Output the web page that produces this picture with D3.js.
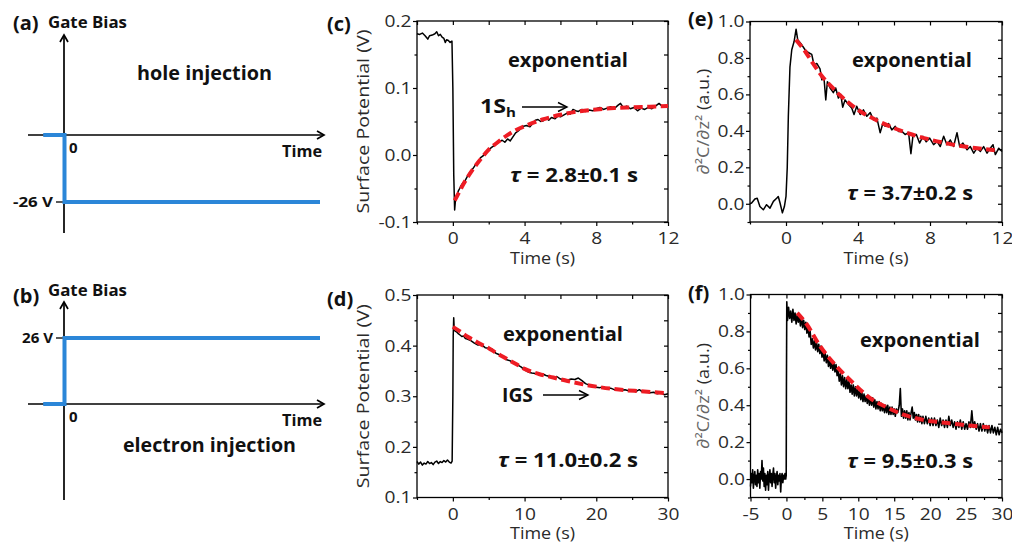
<!DOCTYPE html>
<html><head><meta charset="utf-8">
<script src="https://cdn.jsdelivr.net/npm/d3@7"></script>
<style>
body{margin:0;background:#fff}
svg{display:block}
</style>
</head><body>
<svg id="fig" width="1012" height="544"></svg>
<script>
// ---------------- DATA ----------------
// (a)/(b) gate bias schematic (t in arbitrary units, V in volts)
const holeBias = [[-1,0],[0,0],[0,-26],[12,-26]];
const electronBias = [[-1,0],[0,0],[0,26],[12,26]];
const holeLevelLabel = "-26 V";
const electronLevelLabel = "26 V";

// (c) surface potential, hole injection
const cTrace = [[-2.0,0.181],[-1.85,0.180],[-1.7,0.182],[-1.55,0.178],[-1.4,0.173],[-1.3,0.178],[-1.15,0.179],[-1.0,0.181],[-0.9,0.184],[-0.8,0.178],[-0.7,0.180],[-0.6,0.176],[-0.5,0.174],[-0.42,0.168],[-0.35,0.172],[-0.25,0.171],[-0.15,0.168],[-0.05,0.170],[0.0,0.10],[0.05,-0.03],[0.1,-0.082],[0.15,-0.066],[0.22,-0.061],[0.3,-0.054],[0.38,-0.050],[0.45,-0.046],[0.55,-0.042],[0.65,-0.040],[0.75,-0.035],[0.85,-0.030],[0.95,-0.026],[1.1,-0.021],[1.25,-0.015],[1.4,-0.012],[1.55,-0.004],[1.7,-0.001],[1.85,0.004],[2.0,0.008],[2.2,0.012],[2.4,0.016],[2.6,0.020],[2.75,0.022],[2.9,0.019],[3.05,0.024],[3.2,0.021],[3.35,0.027],[3.5,0.033],[3.65,0.036],[3.8,0.040],[3.95,0.043],[4.1,0.044],[4.3,0.042],[4.45,0.047],[4.6,0.052],[4.75,0.053],[4.9,0.050],[5.05,0.051],[5.2,0.055],[5.35,0.052],[5.5,0.056],[5.7,0.054],[5.85,0.058],[6.0,0.057],[6.2,0.060],[6.4,0.063],[6.55,0.061],[6.7,0.068],[6.85,0.066],[7.0,0.065],[7.2,0.068],[7.4,0.065],[7.6,0.067],[7.8,0.066],[8.0,0.069],[8.2,0.071],[8.4,0.068],[8.6,0.070],[8.8,0.072],[9.0,0.069],[9.2,0.074],[9.35,0.077],[9.5,0.071],[9.7,0.073],[9.9,0.069],[10.1,0.071],[10.3,0.066],[10.5,0.070],[10.7,0.068],[10.9,0.071],[11.1,0.069],[11.3,0.073],[11.5,0.077],[11.7,0.072],[11.85,0.074],[12.0,0.072]];
const cFit = [[0.1,-0.068],[0.3,-0.058],[0.6,-0.043],[1.0,-0.026],[1.5,-0.008],[2.0,0.008],[2.5,0.019],[3.0,0.029],[3.5,0.037],[4.0,0.043],[5.0,0.053],[6.0,0.060],[7.0,0.065],[8.0,0.068],[9.0,0.070],[10.0,0.071],[11.0,0.072],[12.0,0.073]];

// (e) d2C/dz2, hole injection
const eTrace = [[-2.0,0.0],[-1.91,0.004],[-1.73,0.026],[-1.6,0.03],[-1.45,-0.015],[-1.26,-0.033],[-1.08,-0.005],[-0.89,-0.024],[-0.7,0.013],[-0.52,0.03],[-0.43,0.04],[-0.33,0.004],[-0.2,-0.05],[-0.09,-0.015],[0.0,0.04],[0.07,0.2],[0.13,0.48],[0.22,0.75],[0.32,0.845],[0.45,0.89],[0.56,0.958],[0.65,0.90],[0.82,0.88],[1.06,0.845],[1.24,0.83],[1.43,0.82],[1.56,0.76],[1.71,0.77],[1.89,0.74],[1.99,0.68],[2.11,0.69],[2.21,0.57],[2.3,0.67],[2.45,0.635],[2.63,0.61],[2.76,0.635],[2.91,0.58],[3.04,0.6],[3.15,0.53],[3.28,0.57],[3.47,0.545],[3.65,0.525],[3.78,0.49],[3.93,0.535],[4.12,0.49],[4.3,0.515],[4.49,0.48],[4.68,0.5],[4.86,0.46],[5.05,0.47],[5.23,0.39],[5.38,0.44],[5.51,0.425],[5.7,0.44],[5.88,0.405],[6.07,0.425],[6.25,0.397],[6.44,0.397],[6.62,0.38],[6.81,0.39],[6.94,0.275],[7.05,0.37],[7.24,0.38],[7.42,0.333],[7.61,0.37],[7.79,0.34],[7.98,0.36],[8.2,0.324],[8.39,0.342],[8.57,0.314],[8.76,0.37],[8.94,0.324],[9.13,0.35],[9.31,0.314],[9.5,0.39],[9.65,0.314],[9.83,0.333],[10.06,0.296],[10.24,0.314],[10.43,0.278],[10.61,0.305],[10.8,0.287],[10.98,0.314],[11.17,0.278],[11.35,0.305],[11.5,0.324],[11.63,0.27],[11.82,0.305],[12.0,0.287]];
const eFit = [[0.55,0.90],[0.8,0.87],[1.0,0.845],[1.5,0.77],[2.0,0.70],[2.5,0.645],[3.0,0.595],[3.5,0.553],[4.0,0.515],[5.0,0.46],[6.0,0.415],[7.0,0.38],[8.0,0.352],[9.0,0.33],[10.0,0.313],[11.0,0.30],[11.6,0.294]];

// (d) surface potential, electron injection
const dTrace = [[-5.0,0.171],[-4.75,0.166],[-4.5,0.170],[-4.25,0.164],[-4.0,0.168],[-3.75,0.166],[-3.5,0.171],[-3.25,0.167],[-3.0,0.169],[-2.75,0.165],[-2.5,0.170],[-2.25,0.172],[-2.0,0.167],[-1.75,0.171],[-1.5,0.169],[-1.25,0.173],[-1.0,0.170],[-0.75,0.174],[-0.5,0.170],[-0.25,0.168],[-0.1,0.172],[0.0,0.30],[0.05,0.42],[0.12,0.455],[0.2,0.43],[0.4,0.428],[0.6,0.426],[0.8,0.423],[1.0,0.421],[1.25,0.418],[1.5,0.419],[1.75,0.414],[2.0,0.413],[2.5,0.410],[3.0,0.405],[3.5,0.401],[4.0,0.402],[4.5,0.396],[5.0,0.395],[5.5,0.393],[6.0,0.385],[6.5,0.382],[7.0,0.378],[7.5,0.372],[8.0,0.370],[8.5,0.366],[9.0,0.362],[9.5,0.358],[10.0,0.352],[10.5,0.348],[11.0,0.346],[11.5,0.345],[12.0,0.343],[12.5,0.344],[13.0,0.341],[13.5,0.339],[14.0,0.337],[14.5,0.339],[15.0,0.334],[15.5,0.333],[16.0,0.332],[16.5,0.334],[17.0,0.333],[17.5,0.336],[18.0,0.331],[18.5,0.325],[19.0,0.322],[19.5,0.319],[20.0,0.318],[20.5,0.317],[21.0,0.319],[21.5,0.314],[22.0,0.316],[22.5,0.313],[23.0,0.314],[23.5,0.312],[24.0,0.313],[24.5,0.311],[25.0,0.312],[25.5,0.309],[26.0,0.313],[26.5,0.308],[27.0,0.309],[27.5,0.307],[28.0,0.308],[28.5,0.305],[29.0,0.307],[29.5,0.303],[30.0,0.305]];
const dFit = [[0.0,0.437],[1.0,0.428],[2.0,0.418],[3.0,0.410],[4.0,0.402],[5.0,0.395],[6.0,0.386],[7.0,0.378],[8.0,0.370],[9.0,0.362],[10.0,0.354],[12.0,0.344],[14.0,0.337],[16.0,0.330],[18.0,0.324],[20.0,0.319],[22.0,0.315],[24.0,0.312],[26.0,0.310],[28.0,0.308],[30.0,0.306]];

// (f) d2C/dz2, electron injection
const fTrace = [[-5.0,-0.04],[-4.9,0.03],[-4.8,-0.02],[-4.7,0.05],[-4.6,-0.05],[-4.5,0.01],[-4.4,0.04],[-4.3,-0.03],[-4.2,0.02],[-4.1,-0.04],[-4.0,0.05],[-3.9,-0.02],[-3.8,0.03],[-3.7,-0.05],[-3.6,0.04],[-3.5,0.00],[-3.4,0.10],[-3.3,-0.01],[-3.2,0.06],[-3.1,-0.04],[-3.0,0.03],[-2.9,-0.06],[-2.8,0.02],[-2.7,-0.03],[-2.6,0.04],[-2.5,-0.06],[-2.4,0.01],[-2.3,0.05],[-2.2,-0.02],[-2.1,0.03],[-2.0,-0.04],[-1.9,0.02],[-1.8,0.06],[-1.7,-0.02],[-1.6,0.03],[-1.5,-0.05],[-1.4,0.01],[-1.3,0.04],[-1.2,-0.03],[-1.1,0.02],[-1.0,-0.01],[-0.9,0.03],[-0.8,-0.07],[-0.7,0.01],[-0.6,0.03],[-0.5,-0.02],[-0.4,0.02],[-0.3,0.00],[-0.2,0.03],[-0.1,0.00],[-0.03,0.02],[0.0,0.5],[0.05,0.96],[0.15,0.86],[0.3,0.93],[0.45,0.87],[0.6,0.91],[0.75,0.85],[0.9,0.92],[1.05,0.86],[1.2,0.90],[1.35,0.84],[1.5,0.89],[1.65,0.85],[1.8,0.88],[1.95,0.83],[2.1,0.88],[2.25,0.82],[2.4,0.86],[2.55,0.81],[2.7,0.85],[2.85,0.79],[3.0,0.83],[3.15,0.77],[3.3,0.80],[3.45,0.73],[3.6,0.76],[3.75,0.71],[3.9,0.75],[4.05,0.70],[4.2,0.74],[4.35,0.69],[4.5,0.73],[4.65,0.68],[4.8,0.72],[4.95,0.66],[5.1,0.70],[5.25,0.64],[5.4,0.68],[5.55,0.63],[5.7,0.67],[5.85,0.61],[6.0,0.65],[6.15,0.60],[6.3,0.64],[6.45,0.59],[6.6,0.63],[6.75,0.58],[6.9,0.62],[7.05,0.56],[7.2,0.59],[7.35,0.53],[7.5,0.57],[7.65,0.51],[7.8,0.56],[7.95,0.50],[8.1,0.55],[8.25,0.49],[8.4,0.54],[8.55,0.49],[8.7,0.53],[8.85,0.47],[9.0,0.51],[9.15,0.46],[9.3,0.51],[9.45,0.45],[9.6,0.50],[9.75,0.45],[9.9,0.49],[10.05,0.44],[10.2,0.48],[10.35,0.43],[10.5,0.47],[10.65,0.42],[10.8,0.46],[10.95,0.42],[11.1,0.45],[11.25,0.41],[11.4,0.45],[11.55,0.40],[11.7,0.44],[11.85,0.40],[12.0,0.44],[12.15,0.39],[12.3,0.43],[12.45,0.38],[12.6,0.42],[12.75,0.38],[12.9,0.42],[13.05,0.37],[13.2,0.41],[13.35,0.37],[13.5,0.40],[13.65,0.36],[13.8,0.40],[13.95,0.36],[14.1,0.40],[14.25,0.35],[14.4,0.39],[14.55,0.35],[14.7,0.39],[14.85,0.35],[15.0,0.38],[15.15,0.34],[15.3,0.38],[15.5,0.36],[15.7,0.40],[15.85,0.49],[16.0,0.34],[16.15,0.38],[16.3,0.33],[16.45,0.37],[16.6,0.33],[16.75,0.37],[16.9,0.32],[17.05,0.36],[17.2,0.32],[17.35,0.36],[17.5,0.39],[17.65,0.33],[17.8,0.36],[17.95,0.32],[18.1,0.35],[18.25,0.31],[18.4,0.35],[18.55,0.31],[18.7,0.34],[18.85,0.30],[19.0,0.34],[19.2,0.30],[19.4,0.34],[19.6,0.30],[19.8,0.33],[20.0,0.29],[20.2,0.33],[20.4,0.29],[20.6,0.33],[20.8,0.29],[21.0,0.32],[21.2,0.28],[21.4,0.33],[21.6,0.29],[21.8,0.32],[22.0,0.28],[22.2,0.32],[22.4,0.28],[22.6,0.34],[22.8,0.29],[23.0,0.32],[23.2,0.28],[23.4,0.31],[23.6,0.27],[23.8,0.31],[24.0,0.28],[24.2,0.32],[24.4,0.27],[24.6,0.31],[24.8,0.27],[25.0,0.30],[25.2,0.27],[25.4,0.31],[25.6,0.28],[25.8,0.37],[26.0,0.28],[26.2,0.31],[26.4,0.27],[26.6,0.30],[26.8,0.26],[27.0,0.30],[27.2,0.26],[27.4,0.30],[27.6,0.26],[27.8,0.29],[28.0,0.25],[28.2,0.29],[28.4,0.25],[28.6,0.29],[28.8,0.25],[29.0,0.28],[29.2,0.24],[29.4,0.28],[29.6,0.24],[29.8,0.27],[30.0,0.25]];
const fFit = [[1.5,0.90],[2.8,0.84],[4.6,0.725],[7.0,0.61],[9.3,0.52],[11.6,0.44],[13.9,0.39],[16.2,0.35],[18.5,0.325],[20.9,0.31],[23.2,0.30],[25.5,0.29],[28.3,0.28]];

// tick values / labels
const cXTicks = [0,4,8,12], cXLabels = ["0","4","8","12"], cXMinor = [-2,2,6,10];
const cYTicks = [-0.1,0,0.1,0.2], cYLabels = ["-0.1","0.0","0.1","0.2"], cYMinor = [-0.05,0.05,0.15];
const eYTicks = [0,0.2,0.4,0.6,0.8,1.0], eYLabels = ["0.0","0.2","0.4","0.6","0.8","1.0"], eYMinor = [-0.1,0.1,0.3,0.5,0.7,0.9];
const dXTicks = [0,10,20,30], dXLabels = ["0","10","20","30"], dXMinor = [-5,5,15,25];
const dYTicks = [0.1,0.2,0.3,0.4,0.5], dYLabels = ["0.1","0.2","0.3","0.4","0.5"], dYMinor = [0.15,0.25,0.35,0.45];
const fXTicks = [-5,0,5,10,15,20,25,30], fXLabels = ["-5","0","5","10","15","20","25","30"], fXMinor = [-2.5,2.5,7.5,12.5,17.5,22.5,27.5];

const tauC = "2.8±0.1 s", tauE = "3.7±0.2 s", tauD = "11.0±0.2 s", tauF = "9.5±0.3 s";

// ---------------- DRAWING ----------------
const FONT = "'Open Sans','DejaVu Sans',sans-serif";
const BLUE = "#2b86d8", RED = "#ee1c24";
const svg = d3.select("#fig");

function addText(parent, o) {
  const t = parent.append("text")
    .attr("x", o.x).attr("y", o.y)
    .attr("font-family", FONT)
    .attr("font-size", o.size || 17)
    .attr("font-weight", o.weight || "normal")
    .attr("fill", o.fill || "#111")
    .attr("text-anchor", o.anchor || "start");
  if (o.rotate) t.attr("transform", `rotate(${o.rotate},${o.x},${o.y})`);
  const segs = Array.isArray(o.text) ? o.text : [{t:o.text}];
  segs.forEach(s => {
    const sp = t.append("tspan").text(s.t);
    if (s.italic) sp.attr("font-style", "italic");
    if (s.dy) sp.attr("dy", s.dy);
    if (s.size) sp.attr("font-size", s.size);
    if (s.fill) sp.attr("fill", s.fill);
    if (s.weight) sp.attr("font-weight", s.weight);
  });
  if (o.len) t.attr("textLength", o.len).attr("lengthAdjust", "spacingAndGlyphs");
  return t;
}

function arrowLine(parent, x1, y, x2, w, head) {
  parent.append("line").attr("x1", x1).attr("x2", x2).attr("y1", y).attr("y2", y)
    .attr("stroke", "#000").attr("stroke-width", w);
  parent.append("path")
    .attr("d", `M${x2-head},${y-head*0.5}L${x2},${y}L${x2-head},${y+head*0.5}`)
    .attr("fill", "none").attr("stroke", "#000").attr("stroke-width", w);
}

// ---- schematic panels (a) & (b)
function schematic(o) {
  const g = svg.append("g");
  const x = d3.scaleLinear([0, 12], [64.5, 320]);
  const y = d3.scaleLinear([0, o.level], [o.y0, o.yLevel]);
  g.append("line").attr("x1", 64).attr("x2", 64).attr("y1", o.top).attr("y2", o.bottom)
    .attr("stroke", "#000").attr("stroke-width", 1.7);
  g.append("path").attr("d", `M${60},${o.top+7}L64,${o.top}L68,${o.top+7}`)
    .attr("fill", "none").attr("stroke", "#000").attr("stroke-width", 1.7);
  g.append("line").attr("x1", 28).attr("x2", 324).attr("y1", o.y0).attr("y2", o.y0)
    .attr("stroke", "#000").attr("stroke-width", 1.7);
  g.append("path").attr("d", `M${317},${o.y0-4}L324,${o.y0}L317,${o.y0+4}`)
    .attr("fill", "none").attr("stroke", "#000").attr("stroke-width", 1.7);
  g.append("line").attr("x1", 56).attr("x2", 64).attr("y1", y(o.level)).attr("y2", y(o.level))
    .attr("stroke", "#000").attr("stroke-width", 1.3);
  g.append("path").datum(o.data)
    .attr("d", d3.line().x(d => x(d[0])).y(d => y(d[1])))
    .attr("fill", "none").attr("stroke", BLUE).attr("stroke-width", 4);
  addText(g, {x:13, y:o.labY, text:o.label, size:20, weight:"bold"});
  addText(g, {x:48, y:o.gbY, text:"Gate Bias", size:16, weight:"bold", len:79});
  addText(g, {x:69, y:o.y0+18, text:"0", size:15, weight:"bold"});
  addText(g, {x:282, y:o.y0+22, text:"Time", size:16, weight:"bold", len:40});
  addText(g, {x:53, y:y(o.level)+5, text:o.levelLabel, size:15, weight:"bold", anchor:"end", len:o.levelLen});
  addText(g, {x:o.injX, y:o.injY, text:o.injText, size:19.5, weight:"bold", len:o.injLen});
}
schematic({data:holeBias, level:-26, y0:135, yLevel:202, top:35, bottom:233, label:"(a)", labY:30, gbY:28,
  levelLabel:holeLevelLabel, levelLen:40, injText:"hole injection", injX:137, injY:80, injLen:135});
schematic({data:electronBias, level:26, y0:404, yLevel:338, top:302, bottom:500, label:"(b)", labY:303, gbY:296,
  levelLabel:electronLevelLabel, levelLen:31, injText:"electron injection", injX:123, injY:452, injLen:173});

// ---- data panels
function styleAxis(g) {
  g.select(".domain").remove();
  g.selectAll("line").attr("stroke", "#000").attr("stroke-width", 1.2);
  g.selectAll("text").attr("font-family", FONT).attr("font-size", 17).attr("fill", "#2a2a2a")
    .attr("transform", "scale(1.13,1)");
}

function panel(o) {
  const g = svg.append("g");
  const x = d3.scaleLinear(o.xd, [o.left, o.right]);
  const y = d3.scaleLinear(o.yd, [o.bottom, o.top]);
  const ax = (gen, s, vals, labs, size) => {
    const a = gen(s).tickValues(vals).tickSize(size).tickSizeOuter(0).tickPadding(size > 0 ? 6 : 0);
    a.tickFormat(labs ? ((d, i) => labs[i]) : () => "");
    return a;
  };
  g.append("g").attr("transform", `translate(0,${o.bottom})`).call(ax(d3.axisBottom, x, o.xT, o.xL, 4)).call(styleAxis);
  g.append("g").attr("transform", `translate(0,${o.bottom})`).call(ax(d3.axisBottom, x, o.xM, null, 2.5)).call(styleAxis);
  g.append("g").attr("transform", `translate(0,${o.top})`).call(ax(d3.axisTop, x, o.xT.concat(o.xM), null, -4)).call(styleAxis);
  const la = d3.axisLeft(y).tickValues(o.yT).tickSize(4).tickSizeOuter(0).tickPadding(0.8).tickFormat((d, i) => o.yL[i]);
  g.append("g").attr("transform", `translate(${o.left},0)`).call(la).call(styleAxis);
  g.append("g").attr("transform", `translate(${o.left},0)`).call(ax(d3.axisLeft, y, o.yM, null, 2.5)).call(styleAxis);
  g.append("g").attr("transform", `translate(${o.right},0)`).call(ax(d3.axisRight, y, o.yT.concat(o.yM), null, -4)).call(styleAxis);
  g.append("rect").attr("x", o.left).attr("y", o.top).attr("width", o.right - o.left).attr("height", o.bottom - o.top)
    .attr("fill", "none").attr("stroke", "#000").attr("stroke-width", 1.3);
  const line = d3.line().x(d => x(d[0])).y(d => y(d[1]));
  g.append("path").datum(o.trace).attr("d", line).attr("fill", "none").attr("stroke", "#000")
    .attr("stroke-width", o.lw || 1.5).attr("stroke-linejoin", "round");
  g.append("path").datum(o.fit).attr("d", line.curve(d3.curveMonotoneX)).attr("fill", "none").attr("stroke", RED)
    .attr("stroke-width", 4).attr("stroke-dasharray", "9,4.5");
  const cx = (o.left + o.right) / 2, cy = (o.top + o.bottom) / 2;
  addText(g, {x:cx, y:o.bottom + 41.8, text:"Time (s)", size:16, anchor:"middle", len:65, fill:"#2a2a2a"});
  if (o.ytype === "sp") {
    addText(g, {x:o.left - 48, y:cy, text:"Surface Potential (V)", size:17, anchor:"middle", rotate:-90, len:184, fill:"#2a2a2a"});
  } else {
    addText(g, {x:o.left - 41.5, y:cy, text:[{t:"∂²C/∂z²", fill:"#666"},{t:" (a.u.)"}], size:17, anchor:"middle", rotate:-90, len:106, fill:"#2a2a2a"});
  }
  addText(g, {x:o.labX, y:o.labY, text:o.label, size:20, weight:"bold"});
  addText(g, {x:o.expX, y:o.expY, text:"exponential", size:20, weight:"bold", len:120});
  addText(g, {x:o.tauX, y:o.tauY, text:[{t:"τ", italic:true},{t:" = " + o.tau}], size:20, weight:"bold", len:o.tauLen});
  return {g, x, y};
}

const pc = panel({left:417, right:668, top:21, bottom:222, xd:[-2,12], yd:[-0.1,0.2],
  xT:cXTicks, xL:cXLabels, xM:cXMinor, yT:cYTicks, yL:cYLabels, yM:cYMinor, trace:cTrace, fit:cFit, ytype:"sp",
  label:"(c)", labX:327, labY:31, expX:508, expY:67, tauX:510, tauY:182, tau:tauC, tauLen:128});
addText(pc.g, {x:480, y:113, text:[{t:"1S"},{t:"h", size:13, dy:4}], size:20, weight:"bold", len:36});
arrowLine(pc.g, 522, 107, 567, 1.4, 9);

const pe = panel({left:750, right:1002, top:21.5, bottom:222, xd:[-2,12], yd:[-0.1,1.0],
  xT:cXTicks, xL:cXLabels, xM:cXMinor, yT:eYTicks, yL:eYLabels, yM:eYMinor, trace:eTrace, fit:eFit, ytype:"d2",
  label:"(e)", labX:688, labY:26, expX:852, expY:67, tauX:847, tauY:200, tau:tauE, tauLen:126});

const pd = panel({left:417, right:668, top:295, bottom:497.5, xd:[-5,30], yd:[0.1,0.5],
  xT:dXTicks, xL:dXLabels, xM:dXMinor, yT:dYTicks, yL:dYLabels, yM:dYMinor, trace:dTrace, fit:dFit, ytype:"sp",
  label:"(d)", labX:327, labY:306, expX:503, expY:341, tauX:498, tauY:467, tau:tauD, tauLen:140});
addText(pd.g, {x:502, y:401.5, text:"IGS", size:20, weight:"bold", len:31});
arrowLine(pd.g, 543, 395, 588, 1.4, 9);

const pf = panel({left:750.5, right:1002, top:294.5, bottom:497.5, xd:[-5,30], yd:[-0.1,1.0],
  xT:fXTicks, xL:fXLabels, xM:fXMinor, yT:eYTicks, yL:eYLabels, yM:eYMinor, trace:fTrace, fit:fFit, ytype:"d2", lw:1.6,
  label:"(f)", labX:688, labY:300, expX:860, expY:347, tauX:847, tauY:468, tau:tauF, tauLen:126});
</script>
</body></html>
